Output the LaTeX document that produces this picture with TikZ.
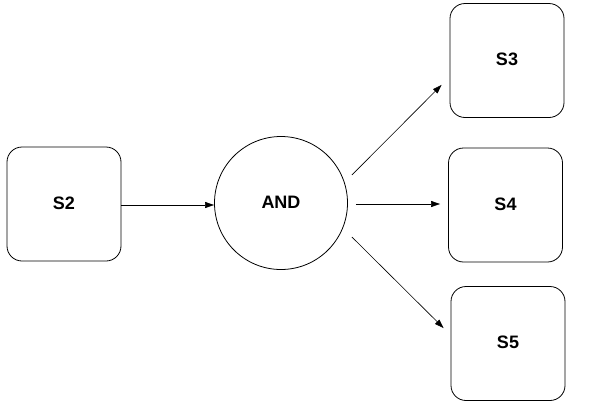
\documentclass[tikz,border=0pt]{standalone}
\usepackage{fontspec}
\setmainfont{Liberation Sans}
\usetikzlibrary{arrows.meta}
\begin{document}
\begin{tikzpicture}[x=1pt,y=-1pt,
  sbox/.style={draw,line width=0.8pt,rounded corners=15pt,minimum width=114pt,minimum height=114pt,inner sep=0pt,font=\fontsize{18}{20}\selectfont\bfseries},
  gate/.style={draw,line width=0.8pt,circle,minimum size=133pt,inner sep=0pt,font=\fontsize{18}{20}\selectfont\bfseries},
  conn/.style={line width=0.6pt,-{Triangle[length=9pt,width=6pt]}}]
\useasboundingbox (0,0) rectangle (598,408);
\node[sbox] (S2) at (64,204) {\raisebox{2pt}{S2}};
\node[gate] (AND) at (281,203) {\raisebox{1pt}{AND}};
\node[sbox] (S3) at (507,60.5) {\raisebox{2pt}{S3}};
\node[sbox] (S4) at (505.5,205) {\raisebox{2pt}{S4}};
\node[sbox] (S5) at (508,343.5) {\raisebox{2pt}{S5}};
\draw[conn] (S2.east |- 0,205) -- (AND.west |- 0,205);
\draw[conn] ([shift={(4,-28)}]AND.east) -- ([shift={(-8,-33)}]S3.south west);
\draw[conn] ([shift={(8,1)}]AND.east) -- ([xshift=-8]S4.west |- 0,204);
\draw[conn] ([shift={(4,34)}]AND.east) -- ([shift={(-7,42)}]S5.north west);
\end{tikzpicture}
\end{document}
